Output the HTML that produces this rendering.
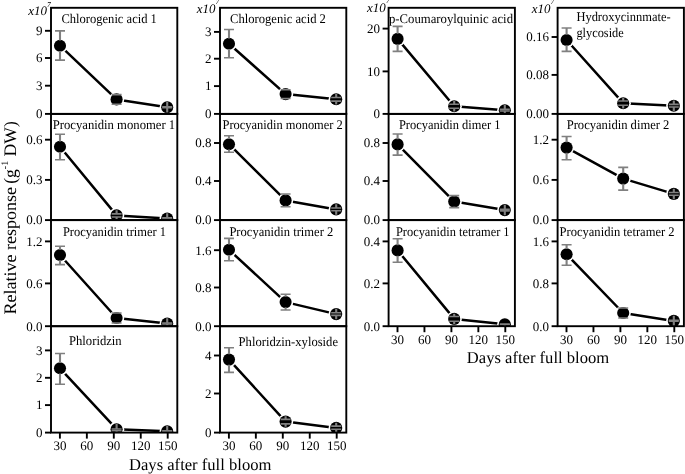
<!DOCTYPE html><html><head><meta charset="utf-8"><style>
html,body{margin:0;padding:0;background:#fff;}
svg{display:block;filter:grayscale(1);}
text{font-family:"Liberation Serif",serif;fill:#000;text-rendering:geometricPrecision;}
</style></head><body>
<svg width="685" height="474" viewBox="0 0 685 474">
<rect width="685" height="474" fill="#fff"/>
<clipPath id="c00"><rect x="51" y="7.8" width="126.3" height="106.1"/></clipPath>
<g clip-path="url(#c00)">
<polyline points="60,45.7 116.6,99.4 167.2,107.3" fill="none" stroke="#000" stroke-width="2.5" stroke-linejoin="round"/>
<circle cx="60" cy="45.7" r="7.65" fill="#fff"/>
<circle cx="60" cy="45.7" r="6.05" fill="#000"/>
<circle cx="116.6" cy="99.4" r="7.65" fill="#fff"/>
<circle cx="116.6" cy="99.4" r="6.05" fill="#000"/>
<circle cx="167.2" cy="107.3" r="7.65" fill="#fff"/>
<circle cx="167.2" cy="107.3" r="6.05" fill="#000"/>
<line x1="60" y1="30.9" x2="60" y2="40.45" stroke="#808080" stroke-width="2.1"/>
<line x1="60" y1="60.1" x2="60" y2="50.95" stroke="#808080" stroke-width="2.1"/>
<line x1="55" y1="30.9" x2="65" y2="30.9" stroke="#808080" stroke-width="1.6"/>
<line x1="55" y1="60.1" x2="65" y2="60.1" stroke="#808080" stroke-width="1.6"/>
<line x1="116.6" y1="94.6" x2="116.6" y2="94.15" stroke="#808080" stroke-width="2.1"/>
<line x1="116.6" y1="104.2" x2="116.6" y2="104.65" stroke="#808080" stroke-width="2.1"/>
<line x1="111.6" y1="94.6" x2="121.6" y2="94.6" stroke="#808080" stroke-width="1.6"/>
<line x1="111.6" y1="104.2" x2="121.6" y2="104.2" stroke="#808080" stroke-width="1.6"/>
<line x1="167.2" y1="106.8" x2="167.2" y2="102.05" stroke="#808080" stroke-width="2.1"/>
<line x1="167.2" y1="107.8" x2="167.2" y2="112.55" stroke="#808080" stroke-width="2.1"/>
<line x1="162.2" y1="106.8" x2="172.2" y2="106.8" stroke="#808080" stroke-width="1.6"/>
<line x1="162.2" y1="107.8" x2="172.2" y2="107.8" stroke="#808080" stroke-width="1.6"/>
</g>
<rect x="51" y="7.8" width="126.3" height="106.1" fill="none" stroke="#000" stroke-width="1.9"/>
<line x1="45" y1="113.9" x2="51" y2="113.9" stroke="#000" stroke-width="1.9"/>
<text x="42.4" y="118.2" font-size="13" text-anchor="end">0</text>
<line x1="45" y1="85.7" x2="51" y2="85.7" stroke="#000" stroke-width="1.9"/>
<text x="42.4" y="90" font-size="13" text-anchor="end">3</text>
<line x1="45" y1="58" x2="51" y2="58" stroke="#000" stroke-width="1.9"/>
<text x="42.4" y="62.3" font-size="13" text-anchor="end">6</text>
<line x1="45" y1="30.8" x2="51" y2="30.8" stroke="#000" stroke-width="1.9"/>
<text x="42.4" y="35.1" font-size="13" text-anchor="end">9</text>
<text x="61.4" y="23" font-size="13.2" textLength="95.5" lengthAdjust="spacingAndGlyphs">Chlorogenic acid 1</text>
<clipPath id="c01"><rect x="220" y="7.8" width="126.3" height="106.1"/></clipPath>
<g clip-path="url(#c01)">
<polyline points="229,43.7 285.6,94.1 336.2,99.3" fill="none" stroke="#000" stroke-width="2.5" stroke-linejoin="round"/>
<circle cx="229" cy="43.7" r="7.65" fill="#fff"/>
<circle cx="229" cy="43.7" r="6.05" fill="#000"/>
<circle cx="285.6" cy="94.1" r="7.65" fill="#fff"/>
<circle cx="285.6" cy="94.1" r="6.05" fill="#000"/>
<circle cx="336.2" cy="99.3" r="7.65" fill="#fff"/>
<circle cx="336.2" cy="99.3" r="6.05" fill="#000"/>
<line x1="229" y1="29.5" x2="229" y2="38.45" stroke="#808080" stroke-width="2.1"/>
<line x1="229" y1="57.7" x2="229" y2="48.95" stroke="#808080" stroke-width="2.1"/>
<line x1="224" y1="29.5" x2="234" y2="29.5" stroke="#808080" stroke-width="1.6"/>
<line x1="224" y1="57.7" x2="234" y2="57.7" stroke="#808080" stroke-width="1.6"/>
<line x1="285.6" y1="89.7" x2="285.6" y2="88.85" stroke="#808080" stroke-width="2.1"/>
<line x1="285.6" y1="98.5" x2="285.6" y2="99.35" stroke="#808080" stroke-width="2.1"/>
<line x1="280.6" y1="89.7" x2="290.6" y2="89.7" stroke="#808080" stroke-width="1.6"/>
<line x1="280.6" y1="98.5" x2="290.6" y2="98.5" stroke="#808080" stroke-width="1.6"/>
<line x1="336.2" y1="97.5" x2="336.2" y2="94.05" stroke="#808080" stroke-width="2.1"/>
<line x1="336.2" y1="101.1" x2="336.2" y2="104.55" stroke="#808080" stroke-width="2.1"/>
<line x1="331.2" y1="97.5" x2="341.2" y2="97.5" stroke="#808080" stroke-width="1.6"/>
<line x1="331.2" y1="101.1" x2="341.2" y2="101.1" stroke="#808080" stroke-width="1.6"/>
</g>
<rect x="220" y="7.8" width="126.3" height="106.1" fill="none" stroke="#000" stroke-width="1.9"/>
<line x1="214" y1="113.9" x2="220" y2="113.9" stroke="#000" stroke-width="1.9"/>
<text x="211.4" y="118.2" font-size="13" text-anchor="end">0</text>
<line x1="214" y1="86.1" x2="220" y2="86.1" stroke="#000" stroke-width="1.9"/>
<text x="211.4" y="90.4" font-size="13" text-anchor="end">1</text>
<line x1="214" y1="58.7" x2="220" y2="58.7" stroke="#000" stroke-width="1.9"/>
<text x="211.4" y="63" font-size="13" text-anchor="end">2</text>
<line x1="214" y1="31.9" x2="220" y2="31.9" stroke="#000" stroke-width="1.9"/>
<text x="211.4" y="36.2" font-size="13" text-anchor="end">3</text>
<text x="230" y="23" font-size="13.2" textLength="95.9" lengthAdjust="spacingAndGlyphs">Chlorogenic acid 2</text>
<clipPath id="c02"><rect x="388.6" y="7.8" width="126.3" height="106.1"/></clipPath>
<g clip-path="url(#c02)">
<polyline points="397.6,38.9 454.2,106.3 504.8,110.2" fill="none" stroke="#000" stroke-width="2.5" stroke-linejoin="round"/>
<circle cx="397.6" cy="38.9" r="7.65" fill="#fff"/>
<circle cx="397.6" cy="38.9" r="6.05" fill="#000"/>
<circle cx="454.2" cy="106.3" r="7.65" fill="#fff"/>
<circle cx="454.2" cy="106.3" r="6.05" fill="#000"/>
<circle cx="504.8" cy="110.2" r="7.65" fill="#fff"/>
<circle cx="504.8" cy="110.2" r="6.05" fill="#000"/>
<line x1="397.6" y1="26.4" x2="397.6" y2="33.65" stroke="#808080" stroke-width="2.1"/>
<line x1="397.6" y1="51.4" x2="397.6" y2="44.15" stroke="#808080" stroke-width="2.1"/>
<line x1="392.6" y1="26.4" x2="402.6" y2="26.4" stroke="#808080" stroke-width="1.6"/>
<line x1="392.6" y1="51.4" x2="402.6" y2="51.4" stroke="#808080" stroke-width="1.6"/>
<line x1="454.2" y1="104.3" x2="454.2" y2="101.05" stroke="#808080" stroke-width="2.1"/>
<line x1="454.2" y1="108.3" x2="454.2" y2="111.55" stroke="#808080" stroke-width="2.1"/>
<line x1="449.2" y1="104.3" x2="459.2" y2="104.3" stroke="#808080" stroke-width="1.6"/>
<line x1="449.2" y1="108.3" x2="459.2" y2="108.3" stroke="#808080" stroke-width="1.6"/>
<line x1="504.8" y1="109.4" x2="504.8" y2="104.95" stroke="#808080" stroke-width="2.1"/>
<line x1="504.8" y1="111" x2="504.8" y2="115.45" stroke="#808080" stroke-width="2.1"/>
<line x1="499.8" y1="109.4" x2="509.8" y2="109.4" stroke="#808080" stroke-width="1.6"/>
<line x1="499.8" y1="111" x2="509.8" y2="111" stroke="#808080" stroke-width="1.6"/>
</g>
<rect x="388.6" y="7.8" width="126.3" height="106.1" fill="none" stroke="#000" stroke-width="1.9"/>
<line x1="382.6" y1="113.9" x2="388.6" y2="113.9" stroke="#000" stroke-width="1.9"/>
<text x="380" y="118.2" font-size="13" text-anchor="end">0</text>
<line x1="382.6" y1="71.4" x2="388.6" y2="71.4" stroke="#000" stroke-width="1.9"/>
<text x="380" y="75.7" font-size="13" text-anchor="end">10</text>
<line x1="382.6" y1="28.6" x2="388.6" y2="28.6" stroke="#000" stroke-width="1.9"/>
<text x="380" y="32.9" font-size="13" text-anchor="end">20</text>
<text x="389" y="23" font-size="13.2" textLength="124" lengthAdjust="spacingAndGlyphs">p-Coumaroylquinic acid</text>
<clipPath id="c03"><rect x="557.6" y="7.8" width="126.3" height="106.1"/></clipPath>
<g clip-path="url(#c03)">
<polyline points="566.6,40 623.2,103.2 673.8,105.7" fill="none" stroke="#000" stroke-width="2.5" stroke-linejoin="round"/>
<circle cx="566.6" cy="40" r="7.65" fill="#fff"/>
<circle cx="566.6" cy="40" r="6.05" fill="#000"/>
<circle cx="623.2" cy="103.2" r="7.65" fill="#fff"/>
<circle cx="623.2" cy="103.2" r="6.05" fill="#000"/>
<circle cx="673.8" cy="105.7" r="7.65" fill="#fff"/>
<circle cx="673.8" cy="105.7" r="6.05" fill="#000"/>
<line x1="566.6" y1="28" x2="566.6" y2="34.75" stroke="#808080" stroke-width="2.1"/>
<line x1="566.6" y1="51.4" x2="566.6" y2="45.25" stroke="#808080" stroke-width="2.1"/>
<line x1="561.6" y1="28" x2="571.6" y2="28" stroke="#808080" stroke-width="1.6"/>
<line x1="561.6" y1="51.4" x2="571.6" y2="51.4" stroke="#808080" stroke-width="1.6"/>
<line x1="623.2" y1="101" x2="623.2" y2="97.95" stroke="#808080" stroke-width="2.1"/>
<line x1="623.2" y1="105.2" x2="623.2" y2="108.45" stroke="#808080" stroke-width="2.1"/>
<line x1="618.2" y1="101" x2="628.2" y2="101" stroke="#808080" stroke-width="1.6"/>
<line x1="618.2" y1="105.2" x2="628.2" y2="105.2" stroke="#808080" stroke-width="1.6"/>
<line x1="673.8" y1="104.4" x2="673.8" y2="100.45" stroke="#808080" stroke-width="2.1"/>
<line x1="673.8" y1="107" x2="673.8" y2="110.95" stroke="#808080" stroke-width="2.1"/>
<line x1="668.8" y1="104.4" x2="678.8" y2="104.4" stroke="#808080" stroke-width="1.6"/>
<line x1="668.8" y1="107" x2="678.8" y2="107" stroke="#808080" stroke-width="1.6"/>
</g>
<rect x="557.6" y="7.8" width="126.3" height="106.1" fill="none" stroke="#000" stroke-width="1.9"/>
<line x1="551.6" y1="113.9" x2="557.6" y2="113.9" stroke="#000" stroke-width="1.9"/>
<text x="549" y="118.2" font-size="13" text-anchor="end">0.00</text>
<line x1="551.6" y1="74.9" x2="557.6" y2="74.9" stroke="#000" stroke-width="1.9"/>
<text x="549" y="79.2" font-size="13" text-anchor="end">0.08</text>
<line x1="551.6" y1="37" x2="557.6" y2="37" stroke="#000" stroke-width="1.9"/>
<text x="549" y="41.3" font-size="13" text-anchor="end">0.16</text>
<text x="576.4" y="21.3" font-size="13.2" textLength="94.2" lengthAdjust="spacingAndGlyphs">Hydroxycinnmate-</text>
<text x="576.4" y="36.5" font-size="13.2" textLength="47.4" lengthAdjust="spacingAndGlyphs">glycoside</text>
<clipPath id="c10"><rect x="51" y="113.9" width="126.3" height="106.2"/></clipPath>
<g clip-path="url(#c10)">
<polyline points="60,146.7 116.6,215.4 167.2,218.6" fill="none" stroke="#000" stroke-width="2.5" stroke-linejoin="round"/>
<circle cx="60" cy="146.7" r="7.65" fill="#fff"/>
<circle cx="60" cy="146.7" r="6.05" fill="#000"/>
<circle cx="116.6" cy="215.4" r="7.65" fill="#fff"/>
<circle cx="116.6" cy="215.4" r="6.05" fill="#000"/>
<circle cx="167.2" cy="218.6" r="7.65" fill="#fff"/>
<circle cx="167.2" cy="218.6" r="6.05" fill="#000"/>
<line x1="60" y1="134.2" x2="60" y2="141.45" stroke="#808080" stroke-width="2.1"/>
<line x1="60" y1="159.7" x2="60" y2="151.95" stroke="#808080" stroke-width="2.1"/>
<line x1="55" y1="134.2" x2="65" y2="134.2" stroke="#808080" stroke-width="1.6"/>
<line x1="55" y1="159.7" x2="65" y2="159.7" stroke="#808080" stroke-width="1.6"/>
<line x1="116.6" y1="213.9" x2="116.6" y2="210.15" stroke="#808080" stroke-width="2.1"/>
<line x1="116.6" y1="217" x2="116.6" y2="220.65" stroke="#808080" stroke-width="2.1"/>
<line x1="111.6" y1="213.9" x2="121.6" y2="213.9" stroke="#808080" stroke-width="1.6"/>
<line x1="111.6" y1="217" x2="121.6" y2="217" stroke="#808080" stroke-width="1.6"/>
<line x1="167.2" y1="217.9" x2="167.2" y2="213.35" stroke="#808080" stroke-width="2.1"/>
<line x1="167.2" y1="219.3" x2="167.2" y2="223.85" stroke="#808080" stroke-width="2.1"/>
<line x1="162.2" y1="217.9" x2="172.2" y2="217.9" stroke="#808080" stroke-width="1.6"/>
<line x1="162.2" y1="219.3" x2="172.2" y2="219.3" stroke="#808080" stroke-width="1.6"/>
</g>
<rect x="51" y="113.9" width="126.3" height="106.2" fill="none" stroke="#000" stroke-width="1.9"/>
<line x1="45" y1="220.1" x2="51" y2="220.1" stroke="#000" stroke-width="1.9"/>
<text x="42.4" y="224.4" font-size="13" text-anchor="end">0.0</text>
<line x1="45" y1="179.9" x2="51" y2="179.9" stroke="#000" stroke-width="1.9"/>
<text x="42.4" y="184.2" font-size="13" text-anchor="end">0.3</text>
<line x1="45" y1="139.7" x2="51" y2="139.7" stroke="#000" stroke-width="1.9"/>
<text x="42.4" y="144" font-size="13" text-anchor="end">0.6</text>
<text x="52.7" y="128.5" font-size="13.2" textLength="122.5" lengthAdjust="spacingAndGlyphs">Procyanidin monomer 1</text>
<clipPath id="c11"><rect x="220" y="113.9" width="126.3" height="106.2"/></clipPath>
<g clip-path="url(#c11)">
<polyline points="229,144.2 285.6,200.4 336.2,209.4" fill="none" stroke="#000" stroke-width="2.5" stroke-linejoin="round"/>
<circle cx="229" cy="144.2" r="7.65" fill="#fff"/>
<circle cx="229" cy="144.2" r="6.05" fill="#000"/>
<circle cx="285.6" cy="200.4" r="7.65" fill="#fff"/>
<circle cx="285.6" cy="200.4" r="6.05" fill="#000"/>
<circle cx="336.2" cy="209.4" r="7.65" fill="#fff"/>
<circle cx="336.2" cy="209.4" r="6.05" fill="#000"/>
<line x1="229" y1="135.8" x2="229" y2="138.95" stroke="#808080" stroke-width="2.1"/>
<line x1="229" y1="152.2" x2="229" y2="149.45" stroke="#808080" stroke-width="2.1"/>
<line x1="224" y1="135.8" x2="234" y2="135.8" stroke="#808080" stroke-width="1.6"/>
<line x1="224" y1="152.2" x2="234" y2="152.2" stroke="#808080" stroke-width="1.6"/>
<line x1="285.6" y1="194" x2="285.6" y2="195.15" stroke="#808080" stroke-width="2.1"/>
<line x1="285.6" y1="206.8" x2="285.6" y2="205.65" stroke="#808080" stroke-width="2.1"/>
<line x1="280.6" y1="194" x2="290.6" y2="194" stroke="#808080" stroke-width="1.6"/>
<line x1="280.6" y1="206.8" x2="290.6" y2="206.8" stroke="#808080" stroke-width="1.6"/>
<line x1="336.2" y1="208" x2="336.2" y2="204.15" stroke="#808080" stroke-width="2.1"/>
<line x1="336.2" y1="210.8" x2="336.2" y2="214.65" stroke="#808080" stroke-width="2.1"/>
<line x1="331.2" y1="208" x2="341.2" y2="208" stroke="#808080" stroke-width="1.6"/>
<line x1="331.2" y1="210.8" x2="341.2" y2="210.8" stroke="#808080" stroke-width="1.6"/>
</g>
<rect x="220" y="113.9" width="126.3" height="106.2" fill="none" stroke="#000" stroke-width="1.9"/>
<line x1="214" y1="220.1" x2="220" y2="220.1" stroke="#000" stroke-width="1.9"/>
<text x="211.4" y="224.4" font-size="13" text-anchor="end">0.0</text>
<line x1="214" y1="181" x2="220" y2="181" stroke="#000" stroke-width="1.9"/>
<text x="211.4" y="185.3" font-size="13" text-anchor="end">0.4</text>
<line x1="214" y1="143" x2="220" y2="143" stroke="#000" stroke-width="1.9"/>
<text x="211.4" y="147.3" font-size="13" text-anchor="end">0.8</text>
<text x="222.5" y="128.5" font-size="13.2" textLength="120.3" lengthAdjust="spacingAndGlyphs">Procyanidin monomer 2</text>
<clipPath id="c12"><rect x="388.6" y="113.9" width="126.3" height="106.2"/></clipPath>
<g clip-path="url(#c12)">
<polyline points="397.6,144.4 454.2,201.6 504.8,210.1" fill="none" stroke="#000" stroke-width="2.5" stroke-linejoin="round"/>
<circle cx="397.6" cy="144.4" r="7.65" fill="#fff"/>
<circle cx="397.6" cy="144.4" r="6.05" fill="#000"/>
<circle cx="454.2" cy="201.6" r="7.65" fill="#fff"/>
<circle cx="454.2" cy="201.6" r="6.05" fill="#000"/>
<circle cx="504.8" cy="210.1" r="7.65" fill="#fff"/>
<circle cx="504.8" cy="210.1" r="6.05" fill="#000"/>
<line x1="397.6" y1="134" x2="397.6" y2="139.15" stroke="#808080" stroke-width="2.1"/>
<line x1="397.6" y1="155.1" x2="397.6" y2="149.65" stroke="#808080" stroke-width="2.1"/>
<line x1="392.6" y1="134" x2="402.6" y2="134" stroke="#808080" stroke-width="1.6"/>
<line x1="392.6" y1="155.1" x2="402.6" y2="155.1" stroke="#808080" stroke-width="1.6"/>
<line x1="454.2" y1="195.6" x2="454.2" y2="196.35" stroke="#808080" stroke-width="2.1"/>
<line x1="454.2" y1="207.6" x2="454.2" y2="206.85" stroke="#808080" stroke-width="2.1"/>
<line x1="449.2" y1="195.6" x2="459.2" y2="195.6" stroke="#808080" stroke-width="1.6"/>
<line x1="449.2" y1="207.6" x2="459.2" y2="207.6" stroke="#808080" stroke-width="1.6"/>
<line x1="504.8" y1="209.4" x2="504.8" y2="204.85" stroke="#808080" stroke-width="2.1"/>
<line x1="504.8" y1="210.9" x2="504.8" y2="215.35" stroke="#808080" stroke-width="2.1"/>
<line x1="499.8" y1="209.4" x2="509.8" y2="209.4" stroke="#808080" stroke-width="1.6"/>
<line x1="499.8" y1="210.9" x2="509.8" y2="210.9" stroke="#808080" stroke-width="1.6"/>
</g>
<rect x="388.6" y="113.9" width="126.3" height="106.2" fill="none" stroke="#000" stroke-width="1.9"/>
<line x1="382.6" y1="220.1" x2="388.6" y2="220.1" stroke="#000" stroke-width="1.9"/>
<text x="380" y="224.4" font-size="13" text-anchor="end">0.0</text>
<line x1="382.6" y1="181" x2="388.6" y2="181" stroke="#000" stroke-width="1.9"/>
<text x="380" y="185.3" font-size="13" text-anchor="end">0.4</text>
<line x1="382.6" y1="143" x2="388.6" y2="143" stroke="#000" stroke-width="1.9"/>
<text x="380" y="147.3" font-size="13" text-anchor="end">0.8</text>
<text x="398.9" y="128.5" font-size="13.2" textLength="101.5" lengthAdjust="spacingAndGlyphs">Procyanidin dimer 1</text>
<clipPath id="c13"><rect x="557.6" y="113.9" width="126.3" height="106.2"/></clipPath>
<g clip-path="url(#c13)">
<polyline points="566.6,147.6 623.2,178.6 673.8,193.9" fill="none" stroke="#000" stroke-width="2.5" stroke-linejoin="round"/>
<circle cx="566.6" cy="147.6" r="7.65" fill="#fff"/>
<circle cx="566.6" cy="147.6" r="6.05" fill="#000"/>
<circle cx="623.2" cy="178.6" r="7.65" fill="#fff"/>
<circle cx="623.2" cy="178.6" r="6.05" fill="#000"/>
<circle cx="673.8" cy="193.9" r="7.65" fill="#fff"/>
<circle cx="673.8" cy="193.9" r="6.05" fill="#000"/>
<line x1="566.6" y1="136.5" x2="566.6" y2="142.35" stroke="#808080" stroke-width="2.1"/>
<line x1="566.6" y1="159.7" x2="566.6" y2="152.85" stroke="#808080" stroke-width="2.1"/>
<line x1="561.6" y1="136.5" x2="571.6" y2="136.5" stroke="#808080" stroke-width="1.6"/>
<line x1="561.6" y1="159.7" x2="571.6" y2="159.7" stroke="#808080" stroke-width="1.6"/>
<line x1="623.2" y1="167.4" x2="623.2" y2="173.35" stroke="#808080" stroke-width="2.1"/>
<line x1="623.2" y1="190.1" x2="623.2" y2="183.85" stroke="#808080" stroke-width="2.1"/>
<line x1="618.2" y1="167.4" x2="628.2" y2="167.4" stroke="#808080" stroke-width="1.6"/>
<line x1="618.2" y1="190.1" x2="628.2" y2="190.1" stroke="#808080" stroke-width="1.6"/>
<line x1="673.8" y1="192.5" x2="673.8" y2="188.65" stroke="#808080" stroke-width="2.1"/>
<line x1="673.8" y1="195.3" x2="673.8" y2="199.15" stroke="#808080" stroke-width="2.1"/>
<line x1="668.8" y1="192.5" x2="678.8" y2="192.5" stroke="#808080" stroke-width="1.6"/>
<line x1="668.8" y1="195.3" x2="678.8" y2="195.3" stroke="#808080" stroke-width="1.6"/>
</g>
<rect x="557.6" y="113.9" width="126.3" height="106.2" fill="none" stroke="#000" stroke-width="1.9"/>
<line x1="551.6" y1="220.1" x2="557.6" y2="220.1" stroke="#000" stroke-width="1.9"/>
<text x="549" y="224.4" font-size="13" text-anchor="end">0.0</text>
<line x1="551.6" y1="179.9" x2="557.6" y2="179.9" stroke="#000" stroke-width="1.9"/>
<text x="549" y="184.2" font-size="13" text-anchor="end">0.6</text>
<line x1="551.6" y1="139.7" x2="557.6" y2="139.7" stroke="#000" stroke-width="1.9"/>
<text x="549" y="144" font-size="13" text-anchor="end">1.2</text>
<text x="566.7" y="128.5" font-size="13.2" textLength="102.7" lengthAdjust="spacingAndGlyphs">Procyanidin dimer 2</text>
<clipPath id="c20"><rect x="51" y="220.1" width="126.3" height="106.1"/></clipPath>
<g clip-path="url(#c20)">
<polyline points="60,255 116.6,318 167.2,323.5" fill="none" stroke="#000" stroke-width="2.5" stroke-linejoin="round"/>
<circle cx="60" cy="255" r="7.65" fill="#fff"/>
<circle cx="60" cy="255" r="6.05" fill="#000"/>
<circle cx="116.6" cy="318" r="7.65" fill="#fff"/>
<circle cx="116.6" cy="318" r="6.05" fill="#000"/>
<circle cx="167.2" cy="323.5" r="7.65" fill="#fff"/>
<circle cx="167.2" cy="323.5" r="6.05" fill="#000"/>
<line x1="60" y1="246.3" x2="60" y2="249.75" stroke="#808080" stroke-width="2.1"/>
<line x1="60" y1="264.6" x2="60" y2="260.25" stroke="#808080" stroke-width="2.1"/>
<line x1="55" y1="246.3" x2="65" y2="246.3" stroke="#808080" stroke-width="1.6"/>
<line x1="55" y1="264.6" x2="65" y2="264.6" stroke="#808080" stroke-width="1.6"/>
<line x1="116.6" y1="313" x2="116.6" y2="312.75" stroke="#808080" stroke-width="2.1"/>
<line x1="116.6" y1="323" x2="116.6" y2="323.25" stroke="#808080" stroke-width="2.1"/>
<line x1="111.6" y1="313" x2="121.6" y2="313" stroke="#808080" stroke-width="1.6"/>
<line x1="111.6" y1="323" x2="121.6" y2="323" stroke="#808080" stroke-width="1.6"/>
<line x1="167.2" y1="323" x2="167.2" y2="318.25" stroke="#808080" stroke-width="2.1"/>
<line x1="167.2" y1="324" x2="167.2" y2="328.75" stroke="#808080" stroke-width="2.1"/>
<line x1="162.2" y1="323" x2="172.2" y2="323" stroke="#808080" stroke-width="1.6"/>
<line x1="162.2" y1="324" x2="172.2" y2="324" stroke="#808080" stroke-width="1.6"/>
</g>
<rect x="51" y="220.1" width="126.3" height="106.1" fill="none" stroke="#000" stroke-width="1.9"/>
<line x1="45" y1="326.2" x2="51" y2="326.2" stroke="#000" stroke-width="1.9"/>
<text x="42.4" y="330.5" font-size="13" text-anchor="end">0.0</text>
<line x1="45" y1="283.4" x2="51" y2="283.4" stroke="#000" stroke-width="1.9"/>
<text x="42.4" y="287.7" font-size="13" text-anchor="end">0.6</text>
<line x1="45" y1="241.4" x2="51" y2="241.4" stroke="#000" stroke-width="1.9"/>
<text x="42.4" y="245.7" font-size="13" text-anchor="end">1.2</text>
<text x="62.9" y="235.6" font-size="13.2" textLength="103.1" lengthAdjust="spacingAndGlyphs">Procyanidin trimer 1</text>
<clipPath id="c21"><rect x="220" y="220.1" width="126.3" height="106.1"/></clipPath>
<g clip-path="url(#c21)">
<polyline points="229,249.8 285.6,302.1 336.2,314.1" fill="none" stroke="#000" stroke-width="2.5" stroke-linejoin="round"/>
<circle cx="229" cy="249.8" r="7.65" fill="#fff"/>
<circle cx="229" cy="249.8" r="6.05" fill="#000"/>
<circle cx="285.6" cy="302.1" r="7.65" fill="#fff"/>
<circle cx="285.6" cy="302.1" r="6.05" fill="#000"/>
<circle cx="336.2" cy="314.1" r="7.65" fill="#fff"/>
<circle cx="336.2" cy="314.1" r="6.05" fill="#000"/>
<line x1="229" y1="238.4" x2="229" y2="244.55" stroke="#808080" stroke-width="2.1"/>
<line x1="229" y1="260.7" x2="229" y2="255.05" stroke="#808080" stroke-width="2.1"/>
<line x1="224" y1="238.4" x2="234" y2="238.4" stroke="#808080" stroke-width="1.6"/>
<line x1="224" y1="260.7" x2="234" y2="260.7" stroke="#808080" stroke-width="1.6"/>
<line x1="285.6" y1="294.2" x2="285.6" y2="296.85" stroke="#808080" stroke-width="2.1"/>
<line x1="285.6" y1="310" x2="285.6" y2="307.35" stroke="#808080" stroke-width="2.1"/>
<line x1="280.6" y1="294.2" x2="290.6" y2="294.2" stroke="#808080" stroke-width="1.6"/>
<line x1="280.6" y1="310" x2="290.6" y2="310" stroke="#808080" stroke-width="1.6"/>
<line x1="336.2" y1="312.8" x2="336.2" y2="308.85" stroke="#808080" stroke-width="2.1"/>
<line x1="336.2" y1="315.4" x2="336.2" y2="319.35" stroke="#808080" stroke-width="2.1"/>
<line x1="331.2" y1="312.8" x2="341.2" y2="312.8" stroke="#808080" stroke-width="1.6"/>
<line x1="331.2" y1="315.4" x2="341.2" y2="315.4" stroke="#808080" stroke-width="1.6"/>
</g>
<rect x="220" y="220.1" width="126.3" height="106.1" fill="none" stroke="#000" stroke-width="1.9"/>
<line x1="214" y1="326.2" x2="220" y2="326.2" stroke="#000" stroke-width="1.9"/>
<text x="211.4" y="330.5" font-size="13" text-anchor="end">0.0</text>
<line x1="214" y1="287.5" x2="220" y2="287.5" stroke="#000" stroke-width="1.9"/>
<text x="211.4" y="291.8" font-size="13" text-anchor="end">0.8</text>
<line x1="214" y1="250.2" x2="220" y2="250.2" stroke="#000" stroke-width="1.9"/>
<text x="211.4" y="254.5" font-size="13" text-anchor="end">1.6</text>
<text x="229.4" y="235.6" font-size="13.2" textLength="103.9" lengthAdjust="spacingAndGlyphs">Procyanidin trimer 2</text>
<clipPath id="c22"><rect x="388.6" y="220.1" width="126.3" height="106.1"/></clipPath>
<g clip-path="url(#c22)">
<polyline points="397.6,250.4 454.2,318.9 504.8,324.2" fill="none" stroke="#000" stroke-width="2.5" stroke-linejoin="round"/>
<circle cx="397.6" cy="250.4" r="7.65" fill="#fff"/>
<circle cx="397.6" cy="250.4" r="6.05" fill="#000"/>
<circle cx="454.2" cy="318.9" r="7.65" fill="#fff"/>
<circle cx="454.2" cy="318.9" r="6.05" fill="#000"/>
<circle cx="504.8" cy="324.2" r="7.65" fill="#fff"/>
<circle cx="504.8" cy="324.2" r="6.05" fill="#000"/>
<line x1="397.6" y1="238.8" x2="397.6" y2="245.15" stroke="#808080" stroke-width="2.1"/>
<line x1="397.6" y1="262.3" x2="397.6" y2="255.65" stroke="#808080" stroke-width="2.1"/>
<line x1="392.6" y1="238.8" x2="402.6" y2="238.8" stroke="#808080" stroke-width="1.6"/>
<line x1="392.6" y1="262.3" x2="402.6" y2="262.3" stroke="#808080" stroke-width="1.6"/>
<line x1="454.2" y1="316.5" x2="454.2" y2="313.65" stroke="#808080" stroke-width="2.1"/>
<line x1="454.2" y1="321.2" x2="454.2" y2="324.15" stroke="#808080" stroke-width="2.1"/>
<line x1="449.2" y1="316.5" x2="459.2" y2="316.5" stroke="#808080" stroke-width="1.6"/>
<line x1="449.2" y1="321.2" x2="459.2" y2="321.2" stroke="#808080" stroke-width="1.6"/>
<line x1="504.8" y1="324.4" x2="504.8" y2="329.45" stroke="#808080" stroke-width="2.1"/>
<line x1="499.8" y1="324.2" x2="509.8" y2="324.2" stroke="#808080" stroke-width="1.6"/>
<line x1="499.8" y1="324.4" x2="509.8" y2="324.4" stroke="#808080" stroke-width="1.6"/>
</g>
<rect x="388.6" y="220.1" width="126.3" height="106.1" fill="none" stroke="#000" stroke-width="1.9"/>
<line x1="382.6" y1="326.2" x2="388.6" y2="326.2" stroke="#000" stroke-width="1.9"/>
<text x="380" y="330.5" font-size="13" text-anchor="end">0.0</text>
<line x1="382.6" y1="283.4" x2="388.6" y2="283.4" stroke="#000" stroke-width="1.9"/>
<text x="380" y="287.7" font-size="13" text-anchor="end">0.2</text>
<line x1="382.6" y1="241.4" x2="388.6" y2="241.4" stroke="#000" stroke-width="1.9"/>
<text x="380" y="245.7" font-size="13" text-anchor="end">0.4</text>
<text x="395.9" y="235.6" font-size="13.2" textLength="113.7" lengthAdjust="spacingAndGlyphs">Procyanidin tetramer 1</text>
<clipPath id="c23"><rect x="557.6" y="220.1" width="126.3" height="106.1"/></clipPath>
<g clip-path="url(#c23)">
<polyline points="566.6,254.3 623.2,313 673.8,320.9" fill="none" stroke="#000" stroke-width="2.5" stroke-linejoin="round"/>
<circle cx="566.6" cy="254.3" r="7.65" fill="#fff"/>
<circle cx="566.6" cy="254.3" r="6.05" fill="#000"/>
<circle cx="623.2" cy="313" r="7.65" fill="#fff"/>
<circle cx="623.2" cy="313" r="6.05" fill="#000"/>
<circle cx="673.8" cy="320.9" r="7.65" fill="#fff"/>
<circle cx="673.8" cy="320.9" r="6.05" fill="#000"/>
<line x1="566.6" y1="244.7" x2="566.6" y2="249.05" stroke="#808080" stroke-width="2.1"/>
<line x1="566.6" y1="265.2" x2="566.6" y2="259.55" stroke="#808080" stroke-width="2.1"/>
<line x1="561.6" y1="244.7" x2="571.6" y2="244.7" stroke="#808080" stroke-width="1.6"/>
<line x1="561.6" y1="265.2" x2="571.6" y2="265.2" stroke="#808080" stroke-width="1.6"/>
<line x1="623.2" y1="308" x2="623.2" y2="307.75" stroke="#808080" stroke-width="2.1"/>
<line x1="623.2" y1="318" x2="623.2" y2="318.25" stroke="#808080" stroke-width="2.1"/>
<line x1="618.2" y1="308" x2="628.2" y2="308" stroke="#808080" stroke-width="1.6"/>
<line x1="618.2" y1="318" x2="628.2" y2="318" stroke="#808080" stroke-width="1.6"/>
<line x1="673.8" y1="320.3" x2="673.8" y2="315.65" stroke="#808080" stroke-width="2.1"/>
<line x1="673.8" y1="321.1" x2="673.8" y2="326.15" stroke="#808080" stroke-width="2.1"/>
<line x1="668.8" y1="320.3" x2="678.8" y2="320.3" stroke="#808080" stroke-width="1.6"/>
<line x1="668.8" y1="321.1" x2="678.8" y2="321.1" stroke="#808080" stroke-width="1.6"/>
</g>
<rect x="557.6" y="220.1" width="126.3" height="106.1" fill="none" stroke="#000" stroke-width="1.9"/>
<line x1="551.6" y1="326.2" x2="557.6" y2="326.2" stroke="#000" stroke-width="1.9"/>
<text x="549" y="330.5" font-size="13" text-anchor="end">0.0</text>
<line x1="551.6" y1="283.4" x2="557.6" y2="283.4" stroke="#000" stroke-width="1.9"/>
<text x="549" y="287.7" font-size="13" text-anchor="end">0.8</text>
<line x1="551.6" y1="241.4" x2="557.6" y2="241.4" stroke="#000" stroke-width="1.9"/>
<text x="549" y="245.7" font-size="13" text-anchor="end">1.6</text>
<text x="559.5" y="235.6" font-size="13.2" textLength="115.1" lengthAdjust="spacingAndGlyphs">Procyanidin tetramer 2</text>
<clipPath id="c30"><rect x="51" y="326.2" width="126.3" height="106.4"/></clipPath>
<g clip-path="url(#c30)">
<polyline points="60,368.3 116.6,429.2 167.2,431.2" fill="none" stroke="#000" stroke-width="2.5" stroke-linejoin="round"/>
<circle cx="60" cy="368.3" r="7.65" fill="#fff"/>
<circle cx="60" cy="368.3" r="6.05" fill="#000"/>
<circle cx="116.6" cy="429.2" r="7.65" fill="#fff"/>
<circle cx="116.6" cy="429.2" r="6.05" fill="#000"/>
<circle cx="167.2" cy="431.2" r="7.65" fill="#fff"/>
<circle cx="167.2" cy="431.2" r="6.05" fill="#000"/>
<line x1="60" y1="353.5" x2="60" y2="363.05" stroke="#808080" stroke-width="2.1"/>
<line x1="60" y1="384.2" x2="60" y2="373.55" stroke="#808080" stroke-width="2.1"/>
<line x1="55" y1="353.5" x2="65" y2="353.5" stroke="#808080" stroke-width="1.6"/>
<line x1="55" y1="384.2" x2="65" y2="384.2" stroke="#808080" stroke-width="1.6"/>
<line x1="116.6" y1="429" x2="116.6" y2="423.95" stroke="#808080" stroke-width="2.1"/>
<line x1="116.6" y1="430.8" x2="116.6" y2="434.45" stroke="#808080" stroke-width="2.1"/>
<line x1="111.6" y1="429" x2="121.6" y2="429" stroke="#808080" stroke-width="1.6"/>
<line x1="111.6" y1="430.8" x2="121.6" y2="430.8" stroke="#808080" stroke-width="1.6"/>
<line x1="167.2" y1="430.8" x2="167.2" y2="425.95" stroke="#808080" stroke-width="2.1"/>
<line x1="167.2" y1="431.6" x2="167.2" y2="436.45" stroke="#808080" stroke-width="2.1"/>
<line x1="162.2" y1="430.8" x2="172.2" y2="430.8" stroke="#808080" stroke-width="1.6"/>
<line x1="162.2" y1="431.6" x2="172.2" y2="431.6" stroke="#808080" stroke-width="1.6"/>
</g>
<rect x="51" y="326.2" width="126.3" height="106.4" fill="none" stroke="#000" stroke-width="1.9"/>
<line x1="45" y1="432.6" x2="51" y2="432.6" stroke="#000" stroke-width="1.9"/>
<text x="42.4" y="436.9" font-size="13" text-anchor="end">0</text>
<line x1="45" y1="405.1" x2="51" y2="405.1" stroke="#000" stroke-width="1.9"/>
<text x="42.4" y="409.4" font-size="13" text-anchor="end">1</text>
<line x1="45" y1="377.8" x2="51" y2="377.8" stroke="#000" stroke-width="1.9"/>
<text x="42.4" y="382.1" font-size="13" text-anchor="end">2</text>
<line x1="45" y1="350.4" x2="51" y2="350.4" stroke="#000" stroke-width="1.9"/>
<text x="42.4" y="354.7" font-size="13" text-anchor="end">3</text>
<text x="69" y="345.3" font-size="13.2" textLength="52.7" lengthAdjust="spacingAndGlyphs">Phloridzin</text>
<clipPath id="c31"><rect x="220" y="326.2" width="126.3" height="106.4"/></clipPath>
<g clip-path="url(#c31)">
<polyline points="229,359.6 285.6,421.6 336.2,427.9" fill="none" stroke="#000" stroke-width="2.5" stroke-linejoin="round"/>
<circle cx="229" cy="359.6" r="7.65" fill="#fff"/>
<circle cx="229" cy="359.6" r="6.05" fill="#000"/>
<circle cx="285.6" cy="421.6" r="7.65" fill="#fff"/>
<circle cx="285.6" cy="421.6" r="6.05" fill="#000"/>
<circle cx="336.2" cy="427.9" r="7.65" fill="#fff"/>
<circle cx="336.2" cy="427.9" r="6.05" fill="#000"/>
<line x1="229" y1="347.8" x2="229" y2="354.35" stroke="#808080" stroke-width="2.1"/>
<line x1="229" y1="372.4" x2="229" y2="364.85" stroke="#808080" stroke-width="2.1"/>
<line x1="224" y1="347.8" x2="234" y2="347.8" stroke="#808080" stroke-width="1.6"/>
<line x1="224" y1="372.4" x2="234" y2="372.4" stroke="#808080" stroke-width="1.6"/>
<line x1="285.6" y1="419.4" x2="285.6" y2="416.35" stroke="#808080" stroke-width="2.1"/>
<line x1="285.6" y1="423.9" x2="285.6" y2="426.85" stroke="#808080" stroke-width="2.1"/>
<line x1="280.6" y1="419.4" x2="290.6" y2="419.4" stroke="#808080" stroke-width="1.6"/>
<line x1="280.6" y1="423.9" x2="290.6" y2="423.9" stroke="#808080" stroke-width="1.6"/>
<line x1="336.2" y1="426.1" x2="336.2" y2="422.65" stroke="#808080" stroke-width="2.1"/>
<line x1="336.2" y1="429.2" x2="336.2" y2="433.15" stroke="#808080" stroke-width="2.1"/>
<line x1="331.2" y1="426.1" x2="341.2" y2="426.1" stroke="#808080" stroke-width="1.6"/>
<line x1="331.2" y1="429.2" x2="341.2" y2="429.2" stroke="#808080" stroke-width="1.6"/>
</g>
<rect x="220" y="326.2" width="126.3" height="106.4" fill="none" stroke="#000" stroke-width="1.9"/>
<line x1="214" y1="432.6" x2="220" y2="432.6" stroke="#000" stroke-width="1.9"/>
<text x="211.4" y="436.9" font-size="13" text-anchor="end">0</text>
<line x1="214" y1="393.5" x2="220" y2="393.5" stroke="#000" stroke-width="1.9"/>
<text x="211.4" y="397.8" font-size="13" text-anchor="end">2</text>
<line x1="214" y1="355.5" x2="220" y2="355.5" stroke="#000" stroke-width="1.9"/>
<text x="211.4" y="359.8" font-size="13" text-anchor="end">4</text>
<text x="238.6" y="345.5" font-size="13.2" textLength="99.4" lengthAdjust="spacingAndGlyphs">Phloridzin-xyloside</text>
<line x1="59.9" y1="432.6" x2="59.9" y2="438.6" stroke="#000" stroke-width="1.9"/>
<text x="59.9" y="450.2" font-size="13" text-anchor="middle">30</text>
<line x1="86.85" y1="432.6" x2="86.85" y2="438.6" stroke="#000" stroke-width="1.9"/>
<text x="86.85" y="450.2" font-size="13" text-anchor="middle">60</text>
<line x1="113.8" y1="432.6" x2="113.8" y2="438.6" stroke="#000" stroke-width="1.9"/>
<text x="113.8" y="450.2" font-size="13" text-anchor="middle">90</text>
<line x1="140.75" y1="432.6" x2="140.75" y2="438.6" stroke="#000" stroke-width="1.9"/>
<text x="140.75" y="450.2" font-size="13" text-anchor="middle">120</text>
<line x1="167.7" y1="432.6" x2="167.7" y2="438.6" stroke="#000" stroke-width="1.9"/>
<text x="167.7" y="450.2" font-size="13" text-anchor="middle">150</text>
<line x1="228.9" y1="432.6" x2="228.9" y2="438.6" stroke="#000" stroke-width="1.9"/>
<text x="228.9" y="450.2" font-size="13" text-anchor="middle">30</text>
<line x1="255.85" y1="432.6" x2="255.85" y2="438.6" stroke="#000" stroke-width="1.9"/>
<text x="255.85" y="450.2" font-size="13" text-anchor="middle">60</text>
<line x1="282.8" y1="432.6" x2="282.8" y2="438.6" stroke="#000" stroke-width="1.9"/>
<text x="282.8" y="450.2" font-size="13" text-anchor="middle">90</text>
<line x1="309.75" y1="432.6" x2="309.75" y2="438.6" stroke="#000" stroke-width="1.9"/>
<text x="309.75" y="450.2" font-size="13" text-anchor="middle">120</text>
<line x1="336.7" y1="432.6" x2="336.7" y2="438.6" stroke="#000" stroke-width="1.9"/>
<text x="336.7" y="450.2" font-size="13" text-anchor="middle">150</text>
<line x1="397.5" y1="326.2" x2="397.5" y2="332.2" stroke="#000" stroke-width="1.9"/>
<text x="397.5" y="343.8" font-size="13" text-anchor="middle">30</text>
<line x1="424.45" y1="326.2" x2="424.45" y2="332.2" stroke="#000" stroke-width="1.9"/>
<text x="424.45" y="343.8" font-size="13" text-anchor="middle">60</text>
<line x1="451.4" y1="326.2" x2="451.4" y2="332.2" stroke="#000" stroke-width="1.9"/>
<text x="451.4" y="343.8" font-size="13" text-anchor="middle">90</text>
<line x1="478.35" y1="326.2" x2="478.35" y2="332.2" stroke="#000" stroke-width="1.9"/>
<text x="478.35" y="343.8" font-size="13" text-anchor="middle">120</text>
<line x1="505.3" y1="326.2" x2="505.3" y2="332.2" stroke="#000" stroke-width="1.9"/>
<text x="505.3" y="343.8" font-size="13" text-anchor="middle">150</text>
<line x1="566.5" y1="326.2" x2="566.5" y2="332.2" stroke="#000" stroke-width="1.9"/>
<text x="566.5" y="343.8" font-size="13" text-anchor="middle">30</text>
<line x1="593.45" y1="326.2" x2="593.45" y2="332.2" stroke="#000" stroke-width="1.9"/>
<text x="593.45" y="343.8" font-size="13" text-anchor="middle">60</text>
<line x1="620.4" y1="326.2" x2="620.4" y2="332.2" stroke="#000" stroke-width="1.9"/>
<text x="620.4" y="343.8" font-size="13" text-anchor="middle">90</text>
<line x1="647.35" y1="326.2" x2="647.35" y2="332.2" stroke="#000" stroke-width="1.9"/>
<text x="647.35" y="343.8" font-size="13" text-anchor="middle">120</text>
<line x1="674.3" y1="326.2" x2="674.3" y2="332.2" stroke="#000" stroke-width="1.9"/>
<text x="674.3" y="343.8" font-size="13" text-anchor="middle">150</text>
<text x="200.2" y="469.7" font-size="16.6" text-anchor="middle">Days after full bloom</text>
<text x="538" y="363.2" font-size="16.6" text-anchor="middle">Days after full bloom</text>
<text transform="translate(16,314.6) rotate(-90)" font-size="17.6" textLength="127.6" lengthAdjust="spacingAndGlyphs">Relative response</text>
<text transform="translate(16,183.8) rotate(-90)" font-size="17.6" textLength="62.6" lengthAdjust="spacingAndGlyphs">(g<tspan font-size="10" dy="-8.5">-1</tspan><tspan dy="8.5"> DW)</tspan></text>
<text x="28.2" y="14.6" font-size="13" font-style="italic">x10<tspan font-size="7.5" dy="-8">7</tspan></text>
<text x="196.8" y="12.85" font-size="13" font-style="italic">x10<tspan font-size="7.5" dy="-9.2">7</tspan></text>
<text x="367.1" y="12.3" font-size="13" font-style="italic">x10<tspan font-size="7.5" dy="-9.2">7</tspan></text>
<text x="531.8" y="12.85" font-size="13" font-style="italic">x10<tspan font-size="7.5" dy="-9.2">7</tspan></text>
</svg></body></html>
